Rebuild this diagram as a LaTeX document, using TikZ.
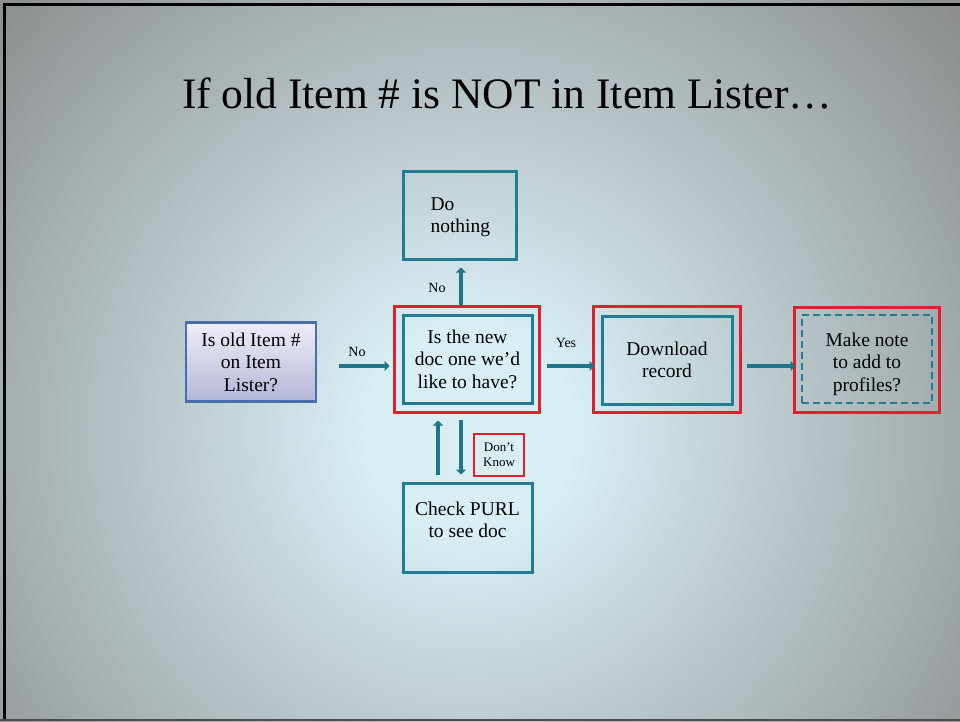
\documentclass[tikz,border=0pt]{standalone}
\usepackage{fontspec}
\setmainfont{Liberation Serif}
\usetikzlibrary{arrows.meta,calc}
\definecolor{tealb}{HTML}{217D91}
\definecolor{tealarr}{HTML}{1F7689}
\definecolor{redb}{HTML}{E0202E}
\definecolor{blueb}{HTML}{4A6FA8}
\definecolor{lavtop}{HTML}{EEEEF8}
\definecolor{lavbot}{HTML}{B4B6D8}
\definecolor{bgin}{HTML}{D8EEF3}
\definecolor{bgout}{HTML}{8C8E8F}
\pgfdeclareradialshading{bgshade}{\pgfpoint{0bp}{0bp}}{color(0bp)=(bgin); color(4bp)=(bgin); color(25bp)=(bgout); color(50bp)=(bgout)}
\begin{document}
\begin{tikzpicture}[x=1pt,y=-1pt,
  boxtext/.style={font=\fontsize{19.5}{22.5}\selectfont, align=center, text=black},
  tealbox/.style={draw=tealb, line width=3pt, minimum width=129pt, minimum height=88pt, inner sep=0pt},
  redbox/.style={draw=redb, line width=3pt, minimum width=145pt, minimum height=106pt, inner sep=0pt},
  arr/.style={draw=tealarr, line width=4.5pt, -{Triangle[length=5pt,width=10pt]}},
  lbl/.style={font=\fontsize{14}{16}\selectfont, text=black}
]
\useasboundingbox (0,0) rectangle (960,721);
% background
\begin{scope}
\clip (0,0) rectangle (960,721);
\shade[shading=bgshade] (-170,-210) rectangle (1110,1070);
\end{scope}
\draw[black, line width=3pt] (4.5,721) -- (4.5,4.5) -- (960,4.5);
\draw[black!70, line width=2pt] (0,720) -- (960,720);

% title
\node[font=\fontsize{43.5}{50}\selectfont, anchor=base] (title) at (507,108) {If old Item \# is NOT in Item Lister…};

% start node
\node[draw=blueb, line width=2.5pt, minimum width=130pt, minimum height=79pt, inner sep=0pt,
      top color=lavtop, bottom color=lavbot, boxtext] (q1) at (251,362) {Is old Item \#\\on Item\\Lister?};

% decision
\node[redbox] (q2red) at (466.5,359) {};
\node[tealbox, boxtext] (q2) at (467.5,359) {Is the new\\doc one we’d\\like to have?};

% do nothing
\node[tealbox, minimum width=113pt] (dn) at (459.5,215) {};
\node[boxtext, align=left, anchor=west] (dntext) at (427,217) {Do\\nothing};

% download
\node[redbox, minimum width=147pt] (dlred) at (666.5,359) {};
\node[tealbox, minimum width=130pt, boxtext] (dl) at (667,360) {Download\\record};

% make note
\node[redbox, minimum height=105pt] (mnred) at (866.5,359.5) {};
\node[tealbox, minimum width=130pt, dash pattern=on 7pt off 4pt, line width=2.5pt] (mn) at (867,359) {};
\node[boxtext] (mntext) at (867,364) {Make note\\to add to\\profiles?};

% check purl
\node[tealbox, minimum height=89pt] (cp) at (467.5,527.5) {};
\node[boxtext] (cptext) at (467.5,520) {Check PURL\\to see doc};

% don't know
\node[draw=redb, line width=2.5pt, minimum width=50pt, minimum height=42pt, inner sep=0pt,
      font=\fontsize{13}{15}\selectfont, align=center] (dk) at (499,455) {Don’t\\Know};

% connectors
\draw[arr] ([shift={(22,4)}]q1.east) -- ([shift={(-3,7)}]q2red.west);
\node[lbl] (lno1) at (357,352) {No};

\draw[arr] ([shift={(-5.5,0)}]q2red.north) -- ([shift={(1.5,7)}]dn.south);
\node[lbl] (lno2) at (437,288) {No};

\draw[arr] ([shift={(6,7)}]q2red.east) -- ([shift={(3,7)}]dlred.west);
\node[lbl] (lyes) at (566,343) {Yes};

\draw[arr] ([shift={(5,7)}]dlred.east) -- ([shift={(3,6.5)}]mnred.west);

\draw[arr] ([shift={(-29.5,-7)}]cp.north) -- ([shift={(-28.5,7)}]q2red.south);
\draw[arr] ([shift={(-5.5,6)}]q2red.south) -- ([shift={(-6.5,-7)}]cp.north);
\end{tikzpicture}
\end{document}
